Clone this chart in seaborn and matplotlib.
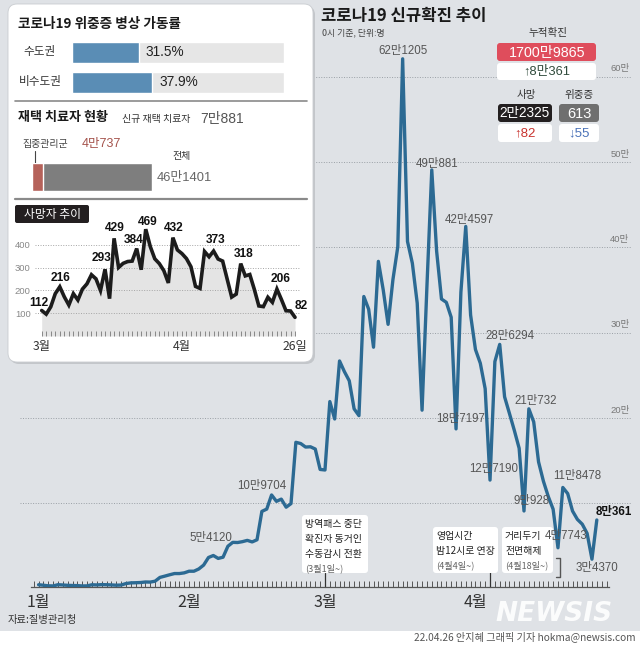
import numpy as np
import pandas as pd
import matplotlib
matplotlib.use('Agg')
import matplotlib.pyplot as plt
import matplotlib.transforms as mtransforms
from matplotlib.patches import FancyBboxPatch, Rectangle
import seaborn as sns

# ---------------- data ----------------
start_date = '2022-01-01'
end_date = '2022-04-26'
cases_jan = [4416, 3833, 3129, 3024, 4444, 4126, 3714, 3511, 3376, 3007, 3097, 4388, 4167, 4542,
             4423, 4194, 3859, 4071, 5805, 6603, 6769, 7009, 7630, 7513, 8571, 13012, 14518,
             16096, 17542, 17528, 18342]
cases_feb = [20270, 20269, 22907, 27443, 36362, 38691, 35286, 36719, 49567, 54120, 53926, 54941,
             56431, 54619, 57177, 90443, 93135, 109704, 102211, 104829, 95362, 99573, 171452,
             170016, 165890, 166209, 163565, 139626]
cases_mar = [138993, 219241, 198803, 266853, 254327, 243628, 210716, 202721, 342446, 327549,
             282987, 383665, 350190, 309790, 362338, 400741, 621205, 407017, 381454, 334708,
             209169, 353980, 490881, 395598, 339514, 335580, 318130, 187197, 347554, 424597,
             320743]
cases_apr = [280273, 264171, 234301, 127190, 266135, 286294, 224820, 205333, 185566, 164481,
             90928, 210732, 195419, 148443, 125846, 107916, 93001, 47743, 118478, 111319,
             90867, 81058, 75449, 64725, 34370, 80361]

month_starts = ['2022-01-01', '2022-02-01', '2022-03-01', '2022-04-01']
month_labels = ['1월', '2월', '3월', '4월']
grid_values = [100000, 200000, 300000, 400000, 500000, 600000]
grid_labels = ['', '20만', '30만', '40만', '50만', '60만']

case_label_dates = ['2022-02-10', '2022-02-18', '2022-03-17', '2022-03-23', '2022-03-28',
                    '2022-03-30', '2022-04-04', '2022-04-06', '2022-04-11', '2022-04-12',
                    '2022-04-18', '2022-04-19', '2022-04-25', '2022-04-26']
case_label_texts = ['5만4120', '10만9704', '62만1205', '49만881', '18만7197', '42만4597',
                    '12만7190', '28만6294', '9만928', '21만732', '4만7743', '11만8478',
                    '3만4370', '8만361']

event_dates = ['2022-03-01', '2022-04-04', '2022-04-18']
event_lines = [['방역패스 중단', '확진자 동거인', '수동감시 전환'],
               ['영업시간', '밤12시로 연장'],
               ['거리두기', '전면해제']]
event_notes = ['(3월1일~)', '(4월4일~)', '(4월18일~)']

# deaths, Mar 1 - Apr 26
deaths = [112, 96, 128, 186, 216, 172, 136, 186, 158, 206, 229, 269, 251, 200, 293, 164, 429,
          301, 319, 327, 329, 384, 291, 469, 393, 339, 318, 287, 233, 432, 378, 362, 340, 304,
          218, 209, 371, 348, 373, 338, 329, 250, 171, 184, 318, 264, 270, 205, 132, 129, 170,
          148, 206, 160, 111, 110, 82]
death_start = '2022-03-01'
death_ticks = [0, 31, 56]
death_tick_labels = ['3월', '4월', '26일']
death_grid = [100, 200, 300, 400]
death_label_idx = [0, 4, 14, 16, 21, 23, 29, 38, 44, 52, 56]

bed_regions = ['수도권', '비수도권']
bed_rates = [31.5, 37.9]

home_total = 461401
home_focus = 40737
home_total_text = '46만1401'
home_focus_text = '4만737'
home_new_text = '7만881'

cum_total_text = '1700만9865'
cum_new_text = '↑8만361'
death_total_text = '2만2325'
death_new_text = '↑82'
severe_total_text = '613'
severe_change_text = '↓55'

# ---------------- style ----------------
sns.set_theme(style='white')
KR = ['Noto Sans CJK KR', 'DejaVu Sans']
NUM = ['Liberation Sans', 'Noto Sans CJK KR', 'DejaVu Sans']
plt.rcParams['font.family'] = KR
plt.rcParams['axes.unicode_minus'] = False

BG = '#dfe2e6'
LINE = '#2c6a93'

W, H = 640, 646
fig = plt.figure(figsize=(6.4, 6.46), dpi=100)
fig.patch.set_facecolor(BG)


def px_axes(x0, y0, x1, y1, z):
    return fig.add_axes([x0 / W, 1 - y1 / H, (x1 - x0) / W, (y1 - y0) / H], zorder=z)


# footer white band
fig.patches.append(Rectangle((0, 0), 1, (H - 631) / H, transform=fig.transFigure,
                             facecolor='white', edgecolor='none', zorder=0.5))

# ---------------- main chart ----------------
dates = pd.date_range(start_date, end_date, freq='D')
day = np.asarray((dates - dates[0]).days)
cases = np.array(cases_jan + cases_feb + cases_mar + cases_apr)


def didx(s):
    return int((pd.Timestamp(s) - dates[0]).days)


ax = px_axes(20, 30, 632, 587, 1)
ax.patch.set_alpha(0)

# overlay in pixel coordinates (above main chart)
ov = fig.add_axes([0, 0, 1, 1], zorder=2)
ov.set_xlim(0, W)
ov.set_ylim(H, 0)
ov.axis('off')
ov.patch.set_alpha(0)

sns.lineplot(x=day, y=cases, color=LINE, lw=2.4, ax=ax, zorder=3,
             solid_joinstyle='round')
ax.set_xlim(-3.83, 122.25)
ax.set_ylim(1760, 655000)
ax.set_xlabel('')
ax.set_ylabel('')
for s in ['top', 'left', 'right']:
    ax.spines[s].set_visible(False)
ax.spines['bottom'].set_bounds(-1.5, 117.5)
ax.spines['bottom'].set_color('#555')
ax.spines['bottom'].set_linewidth(0.9)
ax.set_yticks(grid_values)
ax.yaxis.grid(True, ls=(0, (1, 1.6)), color='#9aa0a6', lw=0.7)
ax.tick_params(axis='y', length=0, labelleft=False)
ax.set_xticks([didx(m) for m in month_starts])
ax.set_xticklabels(month_labels)
ax.set_xticks(np.arange(-1, 118), minor=True)
ax.tick_params(axis='x', which='both', direction='in', length=4, width=0.7, colors='#555',
               bottom=True)
ax.tick_params(axis='x', which='major', labelsize=11.5, labelcolor='#333', pad=5)

ytr = ax.get_yaxis_transform()
for v, lab in zip(grid_values, grid_labels):
    if lab:
        ax.text(0.980, v + 4000, lab, transform=ytr, ha='center', va='bottom',
                fontsize=6.8, color='#777', family=NUM)

case_label_offsets = [(-22, 4), (-10, 9), (0, 8), (5, 6), (5, 10), (4, 6), (4, 11), (10, 8),
                      (8, 10), (7, 8), (8, 12), (14, 11), (5, -9), (17, 8)]
for k, (ds, txt, off) in enumerate(zip(case_label_dates, case_label_texts, case_label_offsets)):
    i = didx(ds)
    last = (k == len(case_label_dates) - 1)
    ax.annotate(txt, (day[i], cases[i]), xytext=off, textcoords='offset pixels',
                ha='center', va='center', fontsize=8.3,
                color='#111' if last else '#555', weight='bold' if last else 'normal',
                family=NUM, annotation_clip=False, zorder=6)

# event pointer lines
btr = mtransforms.blended_transform_factory(ax.transData, ax.transAxes)
f = lambda py: (587 - py) / 557
e0, e1, e2 = [didx(d) for d in event_dates]
ax.plot([e0, e0], [0, f(573)], color='#333', lw=0.9, transform=btr, clip_on=False)
ax.plot([e1, e1], [0, f(572)], color='#333', lw=0.9, transform=btr, clip_on=False)
ax.plot([e2 - 0.5, e2 + 0.4, e2 + 0.4, e2 - 0.5], [f(558), f(558), f(577), f(577)],
        color='#555', lw=1.0, transform=btr, clip_on=False)

# event boxes (drawn in the main axes, below the value labels)
event_boxes = [(302, 515, 368, 573), (433, 527, 498, 573), (502, 527, 553, 573)]
for (x0, y0, x1, y1), lines, note in zip(event_boxes, event_lines, event_notes):
    ax.add_patch(FancyBboxPatch((x0, y0), x1 - x0, y1 - y0,
                                boxstyle='round,pad=0,rounding_size=3',
                                facecolor='white', edgecolor='none',
                                transform=ov.transData, zorder=4, clip_on=False))
    yy = y0 + 9
    for ln in lines:
        ax.text(x0 + 3, yy, ln, fontsize=7.1, color='#222', ha='left', va='center',
                transform=ov.transData, zorder=5, clip_on=False)
        yy += 15
    ax.text(x0 + 3, yy - 1, note, fontsize=6.6, color='#666', ha='left', va='center',
            transform=ov.transData, zorder=5, clip_on=False)


def rbox(x0, y0, x1, y1, fc, r=3, ec='none', lw=0):
    ov.add_patch(FancyBboxPatch((x0, y0), x1 - x0, y1 - y0,
                                boxstyle=f'round,pad=0,rounding_size={r}',
                                facecolor=fc, edgecolor=ec, lw=lw))


def T(x, y, s, size, color='#222', ha='left', va='center', weight='normal', family=KR, **kw):
    ov.text(x, y, s, fontsize=size, color=color, ha=ha, va=va, weight=weight,
            family=family, **kw)


# titles
T(321, 16, '코로나19 신규확진 추이', 12, '#1a1a1a', weight='bold')
T(322, 33, '0시 기준, 단위:명', 6.4, '#444')

# stats boxes
T(548, 33, '누적확진', 7.6, '#333', ha='center')
rbox(497, 43, 596, 61, '#df4d5c', r=3)
T(547, 52.5, cum_total_text, 10.3, 'white', ha='center', family=NUM)
rbox(497, 63, 596, 80, 'white', r=3)
T(547, 72, cum_new_text, 9.3, '#2f4a3b', ha='center', family=NUM)
T(526, 95, '사망', 7.6, '#333', ha='center')
T(579, 95, '위중증', 7.6, '#333', ha='center')
rbox(498, 104, 552, 122, '#231f20', r=3)
T(525, 113.5, death_total_text, 9.8, 'white', ha='center', family=NUM)
rbox(559, 104, 599, 122, '#6f6f6f', r=3)
T(579, 113.5, severe_total_text, 10.5, 'white', ha='center', family=NUM)
rbox(498, 124, 552, 142, 'white', r=3)
T(525, 133.5, death_new_text, 9.5, '#c8322d', ha='center', family=NUM)
rbox(559, 124, 599, 142, 'white', r=3)
T(579, 133.5, severe_change_text, 9.5, '#4a72b8', ha='center', family=NUM)

# source / credit / watermark
T(8, 620, '자료:질병관리청', 7.4, '#333')
T(636, 637, '22.04.26 안지혜 그래픽 기자 hokma@newsis.com', 7.3, '#555', ha='right')
T(554, 614, 'NEWSIS', 19, 'white', ha='center', weight='heavy', style='italic',
  family=['DejaVu Sans'], alpha=0.9)

# inset panel
rbox(10, 6, 315, 364, '#c3c6ca', r=9)
rbox(8, 4, 313, 362, 'white', r=9, ec='#c9ccd0', lw=0.6)
T(18, 24, '코로나19 위중증 병상 가동률', 9.8, '#1a1a1a', weight='bold')
ov.plot([15, 307], [101, 101], color='#8a8a8a', lw=1.2)
T(18, 117, '재택 치료자 현황', 9.4, '#1a1a1a', weight='bold')
T(122, 119, '신규 재택 치료자', 7.2, '#333')
T(200, 119, home_new_text, 10, '#555', family=NUM)
T(22, 144, '집중관리군', 7.2, '#444')
T(82, 144, home_focus_text, 9, '#a4524b', family=NUM)
ov.plot([35, 35], [151, 166], color='#444', lw=0.8)
T(182, 156, '전체', 7.2, '#333', ha='center')
T(157, 177.5, home_total_text, 9.3, '#666', family=NUM)
ov.plot([15, 307], [198.5, 198.5], color='#8a8a8a', lw=1.6)
rbox(15, 205, 89, 223, '#231f20', r=2)
T(52, 214.5, '사망자 추이', 8.5, 'white', ha='center')

# ---------------- bed occupancy bars ----------------
axb = px_axes(72, 37, 284, 97, 3)
axb.patch.set_alpha(0)
sns.barplot(x=[100] * len(bed_regions), y=bed_regions, orient='h', color='#e6e6e6',
            width=0.7, ax=axb, saturation=1)
sns.barplot(x=bed_rates, y=bed_regions, orient='h', color='#5a8db5', width=0.7, ax=axb,
            saturation=1)
axb.set_xlim(0, 100)
axb.set_ylim(1.5, -0.5)
axb.axis('off')
btrb = mtransforms.blended_transform_factory(axb.transAxes, axb.transData)
for i, (reg, v) in enumerate(zip(bed_regions, bed_rates)):
    axb.text(v + 3.3, i, f'{v}%', va='center', ha='left', fontsize=9.8, color='#222',
             family=NUM)
    axb.text(-0.151, i, reg, transform=btrb, va='center', ha='center', fontsize=8.4,
             color='#333', family=KR)

# ---------------- home treatment bar ----------------
axh = px_axes(32, 163, 152, 191, 3)
axh.patch.set_alpha(0)
sns.barplot(x=[home_total], y=['전체'], orient='h', color='#7e7e7e', width=1.0, ax=axh,
            saturation=1)
sns.barplot(x=[home_focus], y=['전체'], orient='h', color='#b5625a', width=1.0, ax=axh,
            saturation=1)
axh.set_xlim(0, home_total)
axh.set_ylim(0.5, -0.5)
axh.axis('off')

# ---------------- deaths inset ----------------
axd = px_axes(35, 225, 300, 336, 3)
axd.patch.set_alpha(0)
dday = np.arange(len(deaths))
dvals = np.array(deaths)
axd.fill_between(dday, 0, dvals, color='#e4e4e4', lw=0, zorder=1)
sns.lineplot(x=dday, y=dvals, color='#1c1c1c', lw=2.6, ax=axd, zorder=3,
             solid_joinstyle='miter')
axd.set_xlim(-1.48, 57.1)
axd.set_ylim(0, 487.5)
axd.set_xlabel('')
axd.set_ylabel('')
for s in axd.spines.values():
    s.set_visible(False)
axd.set_axisbelow('line')
axd.set_yticks(death_grid)
axd.set_yticklabels([str(g) for g in death_grid], family=NUM)
axd.yaxis.grid(True, ls=(0, (1, 1.6)), color='#a5a5a5', lw=0.7, zorder=1.5)
axd.tick_params(axis='y', length=0, labelsize=6.8, labelcolor='#888', pad=3)
axd.set_xticks(death_ticks)
axd.set_xticklabels(death_tick_labels)
axd.set_xticks(dday, minor=True)
axd.tick_params(axis='x', which='both', direction='in', length=3.3, width=0.7,
                colors='#888', bottom=True)
axd.tick_params(axis='x', which='major', labelsize=8.8, labelcolor='#333', pad=3)
death_offsets = [(-3, 7), (1, 9), (-3.5, 11), (1, 10), (-3, 9), (2, 7), (1, 10), (2, 11),
                 (3, 9.5), (4, 10), (6.5, 11)]
for i, off in zip(death_label_idx, death_offsets):
    axd.annotate(str(deaths[i]), (dday[i], dvals[i]), xytext=off, textcoords='offset pixels',
                 ha='center', va='center', fontsize=8.6, weight='bold', color='#111',
                 family=NUM, annotation_clip=False, zorder=5)

fig.savefig('out.png', dpi=100, facecolor=fig.get_facecolor())
